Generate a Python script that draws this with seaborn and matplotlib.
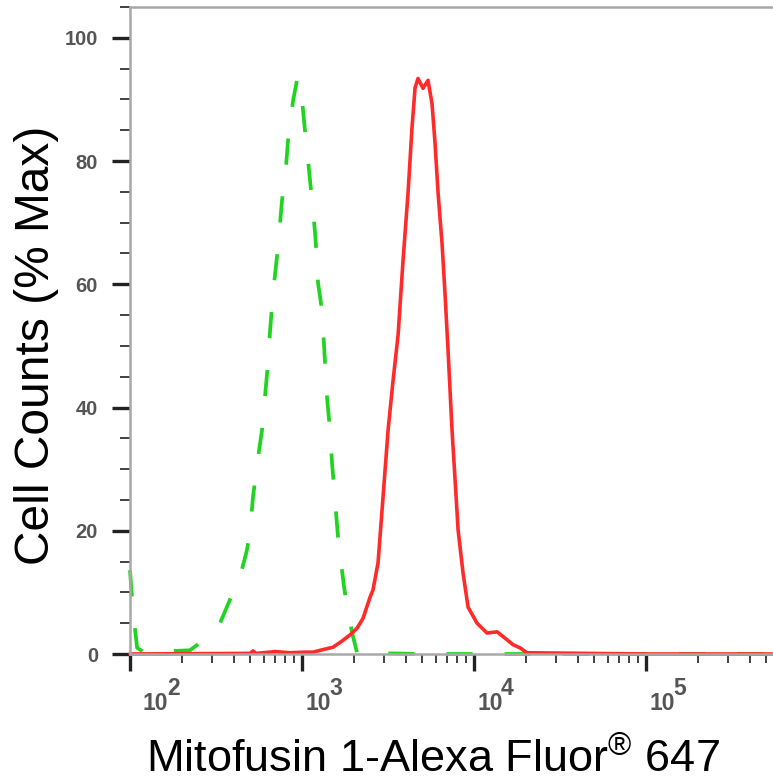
import numpy as np
import pandas as pd
import matplotlib
matplotlib.use("Agg")
import matplotlib.pyplot as plt
import seaborn as sns
from matplotlib.ticker import FixedLocator, NullFormatter

# ---- data ----
iso_x = [100, 104, 110, 122, 149, 183, 223, 255, 321, 381, 436, 479, 499, 519,
         555, 585, 609, 634, 651, 678, 725, 765, 796, 829, 887, 935, 973, 1014,
         1040, 1084, 1113, 1159, 1191, 1222, 1239, 1307, 1361, 1397, 1455, 1494,
         1535, 1577, 1619, 1686, 1755, 1851, 1981, 2090, 5000, 50000, 540000]
iso_y = [13.6, 7.1, 1.0, 0.2, 0.5, 0.5, 0.6, 1.8, 3.9, 8.8, 12.5, 16.9, 20.1, 25.5,
         31.9, 36.3, 41.7, 47.2, 52.2, 58.5, 66.0, 73.6, 76.9, 83.3, 89.8, 93.1, 93.4, 88.2,
         85.0, 80.1, 76.9, 72.0, 68.3, 63.9, 60.2, 55.8, 47.2, 41.7, 36.3, 31.0,
         27.1, 22.9, 19.0, 14.8, 10.9, 6.6, 2.8, 0.2, 0.0, 0.0, 0.0]

mfn_x = [100, 499, 519, 540, 651, 698, 852, 1040, 1159, 1274, 1514, 1708, 1901, 2090,
         2264, 2485, 2586, 2767, 2959, 3164, 3383, 3617, 3867, 4134, 4361, 4542, 4724,
         5051, 5400, 5700, 5934, 6180, 6518, 6780, 7063, 7449, 7762, 8080, 8636, 9234,
         10410, 11900, 13620, 15570, 16870, 18500, 20300, 100000, 540000]
mfn_y = [0.0, 0.1, 0.5, 0.1, 0.3, 0.4, 0.2, 0.3, 0.3, 0.6, 1.1, 2.1, 3.1, 4.2,
         5.8, 9.2, 10.4, 14.8, 25.5, 36.3, 44.4, 51.7, 63.9, 74.8, 85.5, 91.9, 93.4,
         91.8, 93.1, 89.3, 82.9, 74.8, 66.6, 58.5, 49.3, 36.3, 28.2, 20.1, 13.1, 7.6,
         5.0, 3.4, 3.6, 2.3, 1.5, 1.0, 0.2, 0.0, 0.0]

y_major = [0, 20, 40, 60, 80, 100]
y_minor = [5, 10, 15, 25, 30, 35, 45, 50, 55, 65, 70, 75, 85, 90, 95, 105]
x_major = [1e2, 1e3, 1e4, 1e5]
x_base_label = "10"
x_exponents = ["2", "3", "4", "5"]

x_label = "Mitofusin 1-Alexa Fluor$^{®}$ 647"
y_label = "Cell Counts (% Max)"

# ---- style ----
sns.set_style("white")
plt.rcParams['font.family'] = ['Liberation Sans', 'DejaVu Sans']
plt.rcParams['mathtext.fontset'] = 'custom'
plt.rcParams['mathtext.rm'] = 'Liberation Sans'
plt.rcParams['mathtext.it'] = 'Liberation Sans'
plt.rcParams['mathtext.bf'] = 'Liberation Sans:bold'

W, H = 773, 782
fig = plt.figure(figsize=(W / 100, H / 100), dpi=100)
ax = fig.add_axes([130 / W, 1 - 654 / H, (773 - 130) / W, (654 - 7) / H])

iso = pd.DataFrame({"x": iso_x, "y": iso_y})
mfn = pd.DataFrame({"x": mfn_x, "y": mfn_y})

sns.lineplot(data=iso, x="x", y="y", ax=ax, color="#22d422", linewidth=2.7,
             sort=False, estimator=None)
ax.lines[-1].set_linestyle((0, (7, 8.5)))
ax.lines[-1].set_clip_on(False)
sns.lineplot(data=mfn, x="x", y="y", ax=ax, color="#ff2a2a", linewidth=2.6,
             sort=False, estimator=None)
ax.lines[-1].set_clip_on(False)

ax.set_xscale("log")
ax.set_xlim(100, 5.47e5)
ax.set_ylim(0, 105)

ax.xaxis.set_major_locator(FixedLocator(x_major))
minors = [m * d for d in [1e2, 1e3, 1e4, 1e5] for m in range(2, 10) if m * d < 5.47e5]
ax.xaxis.set_minor_locator(FixedLocator(minors))
ax.xaxis.set_minor_formatter(NullFormatter())
ax.set_xticks(x_major)
ax.set_xticklabels([""] * len(x_major))
ax.set_yticks(y_major)
ax.set_yticks(y_minor, minor=True)

ax.tick_params(axis="x", which="major", direction="out", length=12, width=2.4,
               color="#222222", bottom=True)
ax.tick_params(axis="x", which="minor", direction="out", length=6.5, width=1.3,
               color="#333333", bottom=True)
ax.tick_params(axis="y", which="major", direction="out", length=13, width=2.4,
               color="#222222", pad=10, labelsize=14.5, labelcolor="#555555",
               left=True)
ax.tick_params(axis="y", which="minor", direction="out", length=7, width=1.3,
               color="#333333", left=True)
for lbl in ax.get_yticklabels():
    lbl.set_fontweight("bold")

# x tick labels: "10" with a full-size raised exponent
for i, (xt, ex) in enumerate(zip(x_major, x_exponents)):
    dx = 13 if i == 0 else 3
    ax.annotate(x_base_label, xy=(xt, 0), xycoords=("data", "axes fraction"),
                xytext=(dx, -56), textcoords="offset pixels", ha="left",
                va="baseline", fontsize=16.5, color="#555555", fontweight="bold",
                annotation_clip=False)
    ax.annotate(ex, xy=(xt, 0), xycoords=("data", "axes fraction"),
                xytext=(dx + 24, -41), textcoords="offset pixels", ha="left",
                va="baseline", fontsize=16.5, color="#555555", fontweight="bold",
                annotation_clip=False)

for side in ["left", "top", "bottom"]:
    ax.spines[side].set_visible(True)
    ax.spines[side].set_color("#a8a8a8")
    ax.spines[side].set_linewidth(1.8)
ax.spines["right"].set_visible(False)

ax.set_xlabel("")
ax.set_ylabel("")
fig.text(433 / W, 1 - 772 / H, x_label, ha="center", va="baseline",
         fontsize=32.5, color="black")
fig.text(37 / W, 1 - 345 / H, y_label, ha="center", va="center",
         rotation=90, fontsize=34.5, color="black")

fig.savefig("out.png", dpi=100)
